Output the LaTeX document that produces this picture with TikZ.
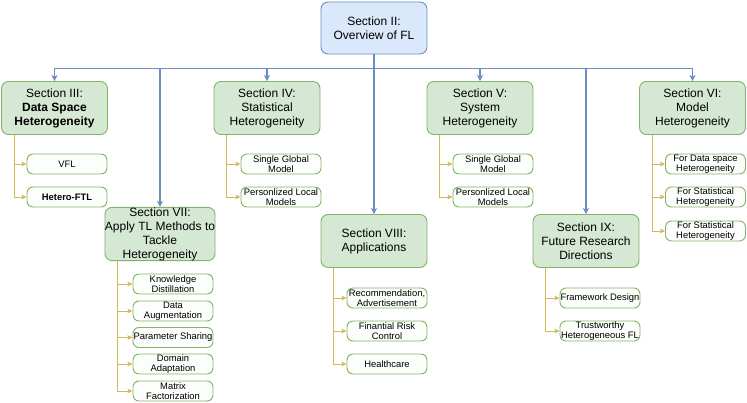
\documentclass[tikz,border=0pt]{standalone}
\usepackage{fontspec}
\setmainfont{Liberation Sans}
\usetikzlibrary{arrows.meta,calc}
\definecolor{bfill}{HTML}{DAE8FC}
\definecolor{bline}{HTML}{6C8EBF}
\definecolor{gfill}{HTML}{D5E8D4}
\definecolor{gline}{HTML}{82B366}
\definecolor{oline}{HTML}{D6B656}
\definecolor{sfill}{HTML}{FBFEFA}
\tikzset{
  topbox/.style={draw=bline,fill=bfill,line width=0.9pt,rounded corners=7pt,minimum width=106pt,minimum height=52pt,inner sep=0pt,align=center,font=\fontsize{12}{14}\selectfont},
  secbox/.style={draw=gline,fill=gfill,line width=0.9pt,rounded corners=7pt,minimum width=106pt,minimum height=53pt,inner sep=0pt,align=center,font=\fontsize{12}{14}\selectfont},
  subbox/.style={draw=gline,fill=sfill,line width=0.9pt,rounded corners=6pt,minimum width=80pt,minimum height=20pt,inner sep=0pt,align=center,font=\fontsize{9.4}{10}\selectfont},
  blink/.style={draw=bline,line width=1.4pt,-{Stealth[length=6pt,width=6pt,inset=1.5pt]}},
  olink/.style={draw=oline,line width=0.9pt,-{Stealth[length=5pt,width=4.5pt,inset=1pt]}}
}
\begin{document}
\begin{tikzpicture}[x=1pt,y=-1pt]
\useasboundingbox (0,0) rectangle (747,403);
% top
\node[topbox] (top) at (374,28) {Section II:\\Overview of FL};
% sections
\node[secbox] (s3) at (54.5,108) {Section III:\\\textbf{Data Space}\\\textbf{Heterogeneity}};
\node[secbox] (s4) at (267,108) {Section IV:\\Statistical\\Heterogeneity};
\node[secbox] (s5) at (480,108) {Section V:\\System\\Heterogeneity};
\node[secbox] (s6) at (692.5,108) {Section VI:\\Model\\Heterogeneity};
\node[secbox] (s7) at (160,234) {Section VII:\\Apply TL Methods to\\Tackle\\Heterogeneity};
\node[secbox] (s8) at (374,241) {Section VIII:\\Applications};
\node[secbox] (s9) at (586,241) {Section IX:\\Future Research\\Directions};
% blue links
\foreach \s in {s3,s4,s5,s6,s7,s9}{
  \draw[blink] (top.south) -- ++(0,14) -| (\s.north);
}
\draw[blink] (top.south) -- (s8.north);
% children
\node[subbox] (a1) at (67,164) {VFL};
\node[subbox] (a2) at (67,197) {\textbf{Hetero-FTL}};
\node[subbox] (b1) at (281,164) {Single Global\\Model};
\node[subbox] (b2) at (281,197) {Personlized Local\\Models};
\node[subbox] (c1) at (493,164) {Single Global\\Model};
\node[subbox] (c2) at (493,197) {Personlized Local\\Models};
\node[subbox] (d1) at (705.5,164) {For Data space\\Heterogeneity};
\node[subbox] (d2) at (705.5,197) {For Statistical\\Heterogeneity};
\node[subbox] (d3) at (705.5,231) {For Statistical\\Heterogeneity};
\node[subbox] (e1) at (173,284) {Knowledge\\Distillation};
\node[subbox] (e2) at (173,311) {Data\\Augmentation};
\node[subbox] (e3) at (173,337.5) {Parameter Sharing};
\node[subbox] (e4) at (173,364) {Domain\\Adaptation};
\node[subbox] (e5) at (173,391) {Matrix\\Factorization};
\node[subbox] (f1) at (387,298) {Recommendation,\\Advertisement};
\node[subbox] (f2) at (387,331) {Finantial Risk\\Control};
\node[subbox] (f3) at (387,364) {Healthcare};
\node[subbox] (g1) at (600,298) {Framework Design};
\node[subbox] (g2) at (600,331) {Trustworthy\\Heterogeneous FL};
% orange links
\foreach \p/\c in {s3/a1,s3/a2,s4/b1,s4/b2,s5/c1,s5/c2,s6/d1,s6/d2,s6/d3,s7/e1,s7/e2,s7/e3,s7/e4,s7/e5,s8/f1,s8/f2,s8/f3,s9/g1,s9/g2}{
  \draw[olink] ($(\p.south west)+(13,0)$) |- (\c.west);
}
\end{tikzpicture}
\end{document}
